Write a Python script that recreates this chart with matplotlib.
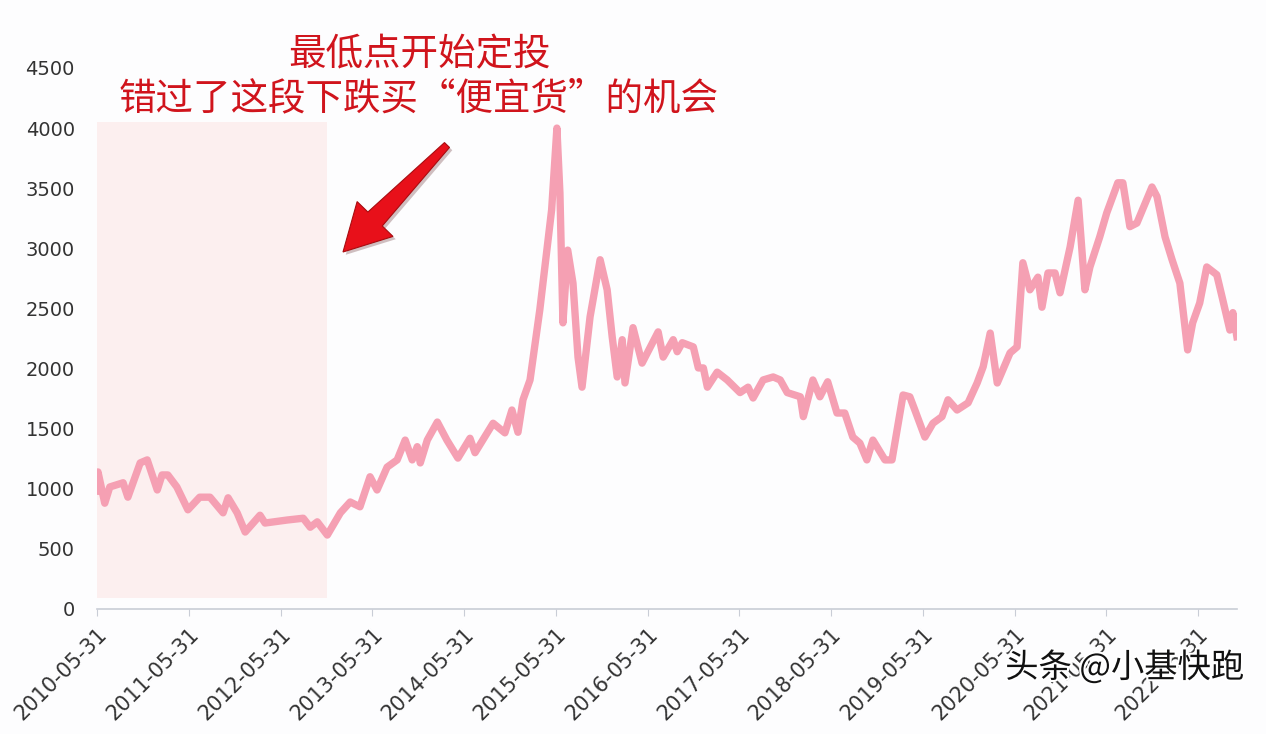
import matplotlib
matplotlib.use("Agg")
import matplotlib.pyplot as plt
import matplotlib.dates as mdates
import matplotlib.patheffects as pe
from matplotlib.patches import Rectangle, Polygon
import numpy as np
import pandas as pd

# 指数走势
dates = [
    "2010-05-31", "2010-06-04", "2010-07-01", "2010-07-21", "2010-09-12", "2010-10-01",
    "2010-11-19", "2010-12-17", "2011-01-26", "2011-02-14", "2011-03-09", "2011-04-14",
    "2011-05-28", "2011-07-14", "2011-08-24", "2011-10-15", "2011-11-04", "2011-12-10",
    "2012-01-11", "2012-03-10", "2012-03-30", "2012-06-26", "2012-08-29", "2012-09-26",
    "2012-10-24", "2012-12-03", "2013-01-24", "2013-03-04", "2013-04-12", "2013-05-22",
    "2013-06-19", "2013-07-29", "2013-09-07", "2013-10-09", "2013-11-06", "2013-11-26",
    "2013-12-08", "2014-01-05", "2014-02-14", "2014-03-24", "2014-05-07", "2014-06-24",
    "2014-07-14", "2014-09-24", "2014-11-10", "2014-12-08", "2015-01-01", "2015-01-21",
    "2015-02-18", "2015-03-29", "2015-05-15", "2015-06-05", "2015-06-17", "2015-06-29",
    "2015-07-18", "2015-08-08", "2015-08-28", "2015-09-13", "2015-10-15", "2015-11-24",
    "2015-12-22", "2016-01-11", "2016-01-31", "2016-02-20", "2016-03-02", "2016-04-03",
    "2016-05-09", "2016-07-12", "2016-08-01", "2016-09-10", "2016-09-26", "2016-10-16",
    "2016-11-29", "2016-12-19", "2017-01-08", "2017-01-24", "2017-03-04", "2017-04-13",
    "2017-06-03", "2017-07-05", "2017-07-25", "2017-09-03", "2017-10-13", "2017-11-10",
    "2017-12-08", "2018-01-29", "2018-02-10", "2018-03-20", "2018-04-17", "2018-05-18",
    "2018-06-24", "2018-07-25", "2018-08-26", "2018-09-23", "2018-10-21", "2018-11-14",
    "2019-01-01", "2019-01-29", "2019-03-14", "2019-04-10", "2019-04-30", "2019-06-09",
    "2019-07-11", "2019-08-16", "2019-09-09", "2019-10-15", "2019-11-28", "2020-01-03",
    "2020-01-27", "2020-02-24", "2020-03-23", "2020-05-13", "2020-06-10", "2020-07-03",
    "2020-07-31", "2020-09-01", "2020-09-17", "2020-10-11", "2020-11-08", "2020-11-28",
    "2021-01-07", "2021-02-08", "2021-03-07", "2021-03-27", "2021-05-05", "2021-06-02",
    "2021-07-16", "2021-08-05", "2021-09-02", "2021-09-30", "2021-11-29", "2021-12-19",
    "2022-01-20", "2022-02-17", "2022-03-20", "2022-04-20", "2022-05-10", "2022-06-07",
    "2022-07-05", "2022-08-14", "2022-09-07", "2022-10-05", "2022-10-17", "2022-11-02",
]
values = [
    980, 1140, 880, 1015, 1050, 930,
    1215, 1240, 990, 1115, 1115, 1015,
    825, 930, 930, 800, 925, 800,
    640, 780, 715, 740, 755, 680,
    725, 615, 800, 890, 850, 1100,
    990, 1180, 1240, 1405, 1240, 1350,
    1215, 1405, 1555, 1405, 1255, 1420,
    1300, 1545, 1465, 1655, 1470, 1740,
    1905, 2490, 3320, 4000, 3460, 2380,
    2985, 2710, 2095, 1845, 2430, 2905,
    2655, 2265, 1930, 2240, 1880, 2340,
    2045, 2305, 2095, 2240, 2140, 2215,
    2180, 2005, 2005, 1845, 1970, 1905,
    1800, 1845, 1755, 1905, 1930, 1905,
    1800, 1765, 1600, 1905, 1765, 1890,
    1630, 1630, 1430, 1380, 1240, 1405,
    1240, 1240, 1780, 1765, 1655, 1430,
    1545, 1600, 1740, 1655, 1715, 1880,
    2015, 2295, 1880, 2130, 2180, 2880,
    2655, 2760, 2510, 2795, 2795, 2630,
    3010, 3400, 2655, 2845, 3095, 3295,
    3545, 3545, 3180, 3210, 3510, 3430,
    3095, 2905, 2710, 2155, 2380, 2545,
    2845, 2780, 2570, 2320, 2465, 2265,
]
tick_dates = ["2010-05-31", "2011-05-31", "2012-05-31", "2013-05-31", "2014-05-31",
              "2015-05-31", "2016-05-31", "2017-05-31", "2018-05-31", "2019-05-31",
              "2020-05-31", "2021-05-31", "2022-05-31"]
y_ticks = [0, 500, 1000, 1500, 2000, 2500, 3000, 3500, 4000, 4500]

# 错过的下跌区间
shade_start, shade_end = "2010-05-31", "2012-12-03"
shade_low, shade_high = 90, 4050

title_lines = ["最低点开始定投", "错过了这段下跌买“便宜货”的机会"]
watermark = "头条 @小基快跑"

cjk = ["Noto Sans CJK SC", "DejaVu Sans"]

W, H = 1266, 734
x = pd.to_datetime(dates)
fig = plt.figure(figsize=(W / 100, H / 100), dpi=100)
fig.patch.set_facecolor("#fdfdfe")
ax = fig.add_axes([0.0766, 0.1703, 0.9004, 0.7371])
ax.set_facecolor("#fdfdfe")

s0, s1 = mdates.date2num(pd.Timestamp(shade_start)), mdates.date2num(pd.Timestamp(shade_end))
ax.add_patch(Rectangle((s0, shade_low), s1 - s0, shade_high - shade_low,
                       facecolor="#fcefef", edgecolor="none", zorder=1))

ax.plot(x, values, color="#f5a0b3", linewidth=5.3, solid_joinstyle="round", zorder=3)

ax.set_xlim(pd.Timestamp("2010-05-31"), pd.Timestamp("2022-11-02"))
ax.set_ylim(0, 4500)
ax.set_yticks(y_ticks)
ax.set_xticks(pd.to_datetime(tick_dates))
ax.set_xticklabels(tick_dates, rotation=45, ha="right", rotation_mode="anchor")
ax.tick_params(axis="y", length=0, labelsize=14, labelcolor="#333333", pad=16)
ax.tick_params(axis="x", length=5, color="#c9cdd6", labelsize=15, labelcolor="#333333", pad=6)
for side in ["top", "right", "left"]:
    ax.spines[side].set_visible(False)
ax.spines["bottom"].set_color("#c9cdd6")
ax.spines["bottom"].set_linewidth(1.2)

# 标注文字
for i, line in enumerate(title_lines):
    fig.text(0.331, 0.926 - i * 0.061, line, family=cjk, fontsize=27, color="#d0141c",
             ha="center", va="center")

# 红色箭头（像素坐标下画出的尖头，尾部变细）
tail = np.array([447.0, 145.0])
tip = np.array([343.0, 252.0])
u = (tip - tail) / np.linalg.norm(tip - tail)
n = np.array([u[1], -u[0]])
base = tip - u * 46
pts = [tail + n * 3.5, base + n * 10, base + n * 25, tip,
       base - n * 25, base - n * 10, tail - n * 3.5]
pts = [(p[0] / W, 1 - p[1] / H) for p in pts]
fig.patches.append(Polygon(pts, closed=True, transform=fig.transFigure,
                           facecolor="#e8101a", edgecolor="#a80c10", lw=0.8,
                           joinstyle="miter", zorder=5,
                           path_effects=[pe.SimplePatchShadow(offset=(2, -2), alpha=0.25),
                                         pe.Normal()]))

fig.text(0.983, 0.09, watermark, family=cjk, fontsize=24, color="#111111",
         ha="right", va="center",
         path_effects=[pe.withStroke(linewidth=3, foreground="white")])

fig.savefig("out.png", dpi=100)
